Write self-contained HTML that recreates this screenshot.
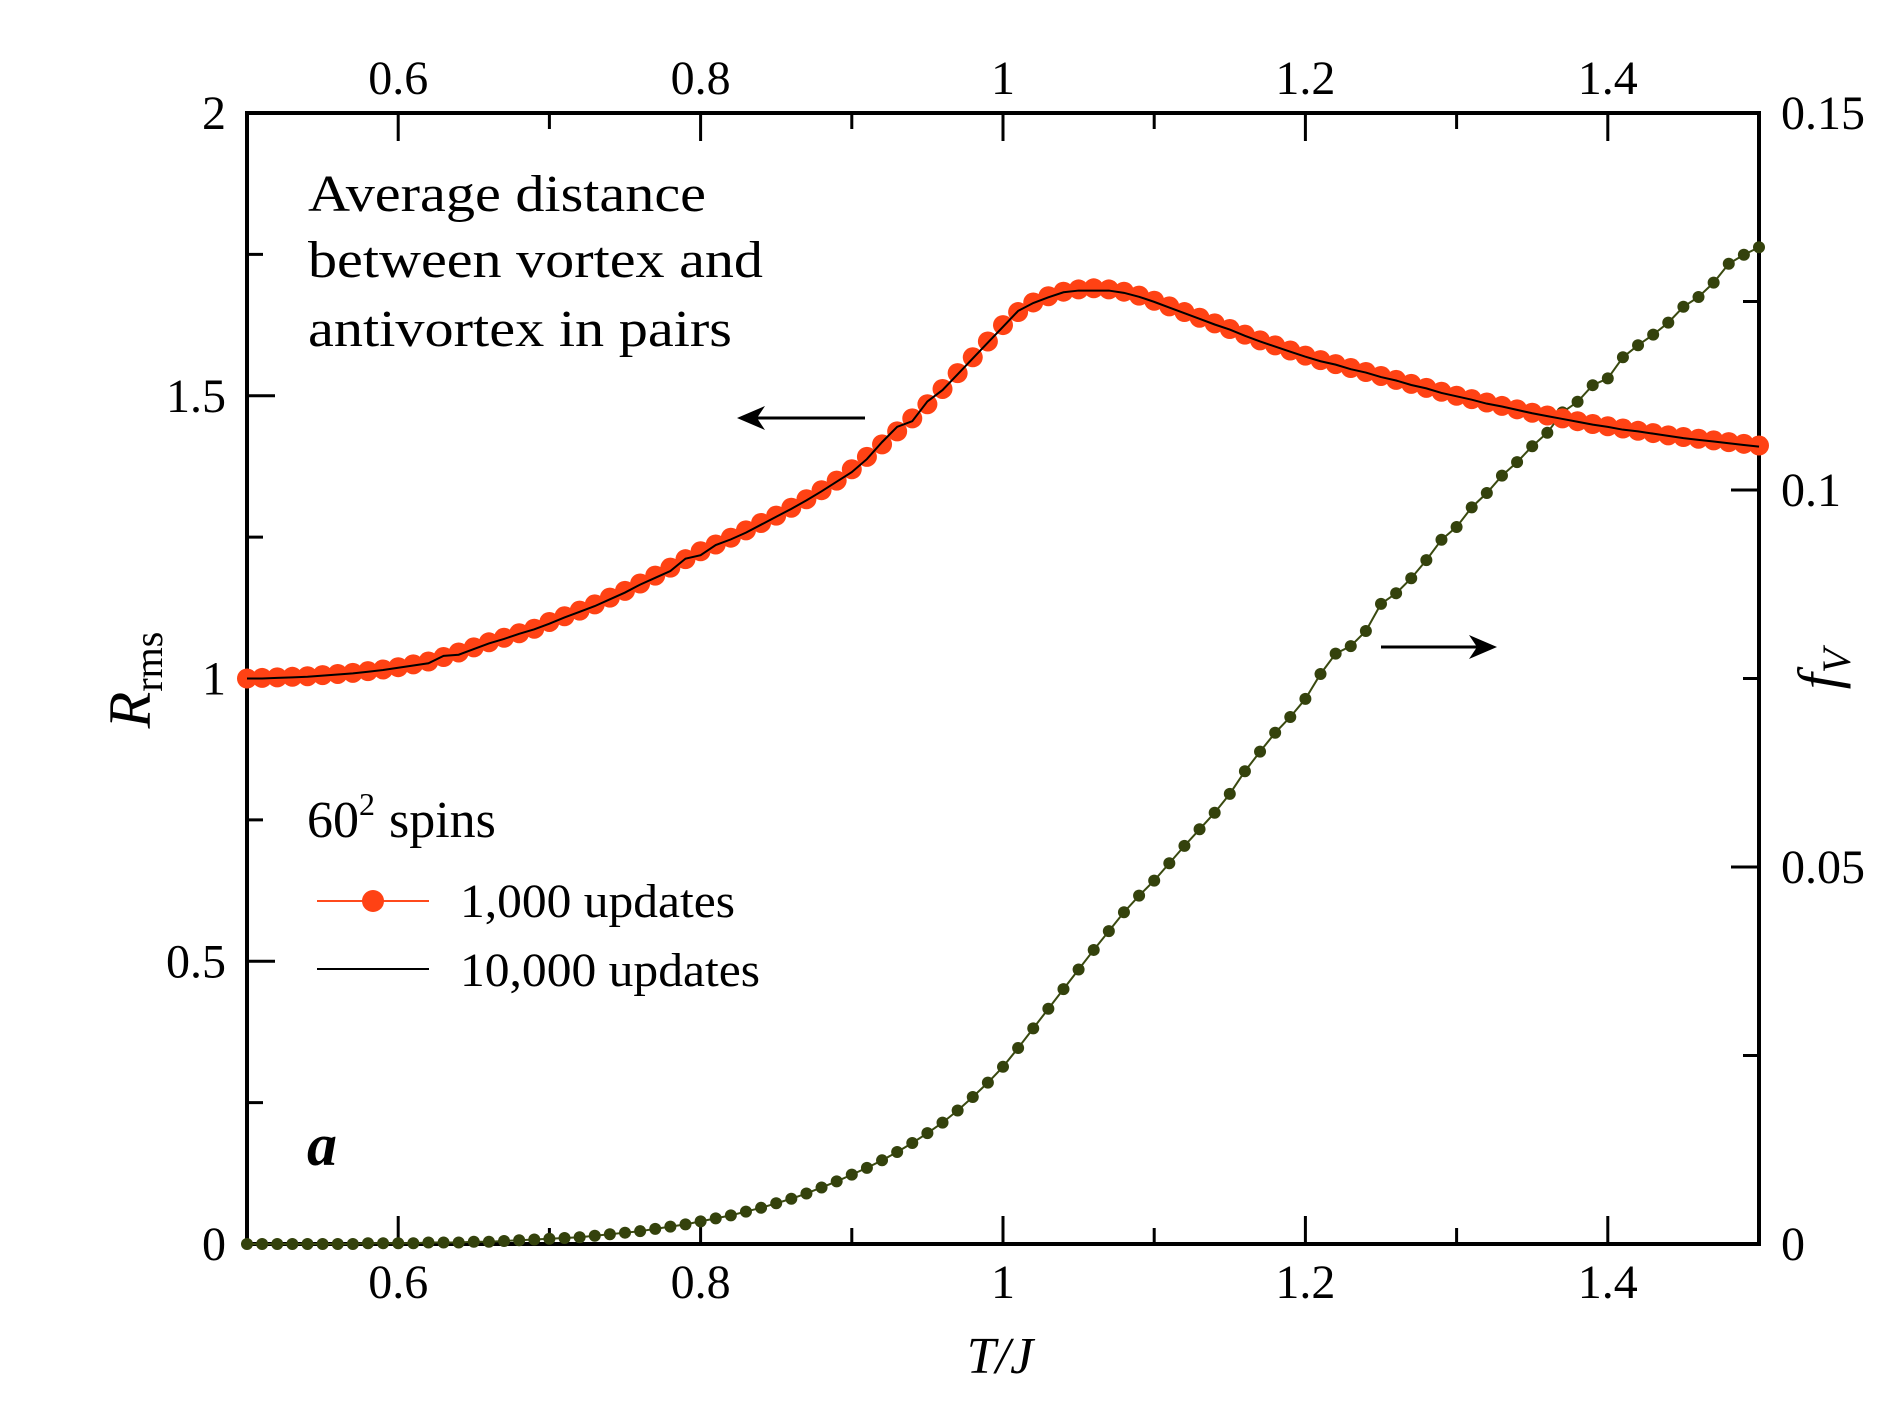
<!DOCTYPE html>
<html><head><meta charset="utf-8"><style>
html,body{margin:0;padding:0;background:#fff}
svg{display:block}
text{font-family:"Liberation Serif",serif;fill:#000}
</style></head><body>
<svg id="chart" width="1889" height="1417" viewBox="0 0 1889 1417" xmlns="http://www.w3.org/2000/svg">
<g id="axes"></g>
<g id="series"></g>
<text x="308" y="211" font-size="52" textLength="398" lengthAdjust="spacingAndGlyphs">Average distance</text>
<text x="308" y="277" font-size="52" textLength="455" lengthAdjust="spacingAndGlyphs">between vortex and</text>
<text x="308" y="346" font-size="52" textLength="424" lengthAdjust="spacingAndGlyphs">antivortex in pairs</text>
<text x="307" y="837" font-size="52">60<tspan dy="-22" font-size="32">2</tspan><tspan dy="22" dx="14">spins</tspan></text>
<line x1="317" y1="901" x2="429" y2="901" stroke="#ff4a1c" stroke-width="2"/>
<circle cx="373" cy="901" r="11" fill="#ff4214"/>
<text x="460" y="917" font-size="48" textLength="275" lengthAdjust="spacingAndGlyphs">1,000 updates</text>
<line x1="317" y1="969" x2="429" y2="969" stroke="#000" stroke-width="2"/>
<text x="460" y="986" font-size="48" textLength="300" lengthAdjust="spacingAndGlyphs">10,000 updates</text>
<text x="307" y="1165" font-size="60" font-weight="bold" font-style="italic">a</text>
<g><line x1="865" y1="418" x2="742" y2="418" stroke="#000" stroke-width="3"/><path d="M737 418 L765 406 L757 418 L765 430 Z" fill="#000"/></g>
<g><line x1="1381" y1="647" x2="1492" y2="647" stroke="#000" stroke-width="3"/><path d="M1497 647 L1469 635 L1477 647 L1469 659 Z" fill="#000"/></g>
<text x="1000" y="1373" font-size="52" font-style="italic" text-anchor="middle">T/J</text>
<text transform="translate(150,680) rotate(-90)" font-size="60" text-anchor="middle"><tspan font-style="italic">R</tspan><tspan font-size="40" dy="12">rms</tspan></text>
<text transform="translate(1838,669) rotate(-90)" font-size="58" text-anchor="middle"><tspan font-style="italic">f</tspan><tspan font-size="40" font-style="italic" dy="12">V</tspan></text>
</svg>
<script>
const temps = [];
for (let i = 0; i <= 100; i++) temps.push(0.5 + i * 0.01);
const rms1000 = [
1.000,1.001,1.002,1.003,1.004,1.006,1.008,1.010,1.013,1.016,
1.020,1.025,1.030,1.038,1.046,1.055,1.064,1.072,1.080,1.088,
1.100,1.110,1.120,1.131,1.143,1.155,1.168,1.182,1.196,1.211,
1.225,1.237,1.249,1.262,1.275,1.288,1.302,1.317,1.333,1.350,
1.370,1.392,1.414,1.437,1.460,1.485,1.512,1.540,1.568,1.596,
1.625,1.648,1.665,1.676,1.684,1.688,1.690,1.688,1.684,1.677,
1.668,1.658,1.648,1.638,1.628,1.618,1.608,1.598,1.589,1.580,
1.571,1.563,1.556,1.549,1.542,1.535,1.528,1.521,1.514,1.507,
1.500,1.494,1.488,1.482,1.476,1.470,1.465,1.460,1.455,1.450,
1.446,1.442,1.438,1.434,1.430,1.427,1.424,1.421,1.418,1.415,1.412];
const rms10000 = [
1.000,1.000,1.001,1.002,1.003,1.005,1.007,1.009,1.012,1.015,
1.019,1.023,1.027,1.040,1.042,1.052,1.062,1.070,1.079,1.087,
1.097,1.108,1.118,1.128,1.140,1.152,1.166,1.178,1.190,1.212,
1.218,1.236,1.246,1.258,1.272,1.286,1.300,1.315,1.331,1.348,
1.365,1.388,1.418,1.445,1.455,1.490,1.510,1.538,1.566,1.594,
1.622,1.650,1.664,1.674,1.683,1.686,1.686,1.686,1.682,1.675,
1.666,1.656,1.646,1.636,1.626,1.617,1.606,1.596,1.587,1.578,
1.569,1.561,1.555,1.547,1.541,1.533,1.527,1.519,1.513,1.505,
1.499,1.493,1.486,1.481,1.475,1.469,1.464,1.459,1.454,1.449,
1.445,1.440,1.437,1.433,1.429,1.425,1.422,1.419,1.416,1.413,1.410];
const fv = [
0,0,0,0,0,0,0,0,0.0001,0.0001,
0.0001,0.0001,0.0002,0.0002,0.0002,0.0003,0.0003,0.0004,0.0005,0.0006,
0.0007,0.0008,0.0009,0.0011,0.0013,0.0015,0.0017,0.0020,0.0023,0.0026,
0.0030,0.0034,0.0038,0.0043,0.0048,0.0054,0.0060,0.0067,0.0075,0.0083,
0.0092,0.0101,0.0111,0.0122,0.0134,0.0147,0.0161,0.0177,0.0195,0.0214,
0.0235,0.0260,0.0286,0.0312,0.0338,0.0364,0.0390,0.0415,0.0440,0.0462,
0.0482,0.0505,0.0528,0.0550,0.0572,0.0597,0.0627,0.0653,0.0678,0.0699,
0.0723,0.0756,0.0783,0.0793,0.0813,0.0849,0.0863,0.0883,0.0907,0.0934,
0.0951,0.0977,0.0996,0.1019,0.1037,0.1058,0.1076,0.1103,0.1117,0.1139,
0.1148,0.1176,0.1192,0.1206,0.1222,0.1243,0.1256,0.1275,0.1300,0.1312,0.1322];
const xTicks = [0.6, 0.8, 1, 1.2, 1.4];
const xTickLabels = ["0.6", "0.8", "1", "1.2", "1.4"];
const leftTicks = [0, 0.5, 1, 1.5, 2];
const leftTickLabels = ["0", "0.5", "1", "1.5", "2"];
const rightTicks = [0, 0.05, 0.1, 0.15];
const rightTickLabels = ["0", "0.05", "0.1", "0.15"];

const L = 247, R = 1759, T = 113, B = 1244;
const X = v => L + (v - 0.5) / 1.0 * (R - L);
const YL = v => B - v / 2 * (B - T);
const YR = v => B - v / 0.15 * (B - T);
const NS = "http://www.w3.org/2000/svg";
function mk(tag, attrs, parent) {
  const e = document.createElementNS(NS, tag);
  for (const k in attrs) e.setAttribute(k, attrs[k]);
  parent.appendChild(e);
  return e;
}
const axes = document.getElementById('axes');
const series = document.getElementById('series');
const frame = mk('rect', {x: L, y: T, width: R - L, height: B - T, fill: 'none', stroke: '#000', 'stroke-width': 4}, axes);


for (let i = 0; i <= 10; i++) {
  const v = 0.5 + i * 0.1;
  const major = i % 2 === 1;
  const len = major ? 28 : 16;
  const x = X(v);
  const t1 = mk('line', {x1: x, y1: B, x2: x, y2: B - len, stroke: '#000', 'stroke-width': 3}, axes);
  
  
  const t2 = mk('line', {x1: x, y1: T, x2: x, y2: T + len, stroke: '#000', 'stroke-width': 3}, axes);
  
  
}
xTicks.forEach((v, i) => {
  const b = mk('text', {x: X(v), y: 1298, 'font-size': 48, 'text-anchor': 'middle'}, axes);
  b.textContent = xTickLabels[i];
  
  
  const t = mk('text', {x: X(v), y: 94, 'font-size': 48, 'text-anchor': 'middle'}, axes);
  t.textContent = xTickLabels[i];
  
  
});
for (let i = 0; i <= 8; i++) {
  const v = i * 0.25;
  const len = i % 2 === 0 ? 28 : 16;
  const tk = mk('line', {x1: L, y1: YL(v), x2: L + len, y2: YL(v), stroke: '#000', 'stroke-width': 3}, axes);
  
  
}
leftTicks.forEach((v, i) => {
  const t = mk('text', {x: 226, y: YL(v) + 16, 'font-size': 48, 'text-anchor': 'end'}, axes);
  t.textContent = leftTickLabels[i];
  
  
});
for (let i = 0; i <= 6; i++) {
  const v = i * 0.025;
  const len = i % 2 === 0 ? 28 : 16;
  const tk = mk('line', {x1: R, y1: YR(v), x2: R - len, y2: YR(v), stroke: '#000', 'stroke-width': 3}, axes);
  
  
}
rightTicks.forEach((v, i) => {
  const t = mk('text', {x: 1781, y: YR(v) + 16, 'font-size': 48}, axes);
  t.textContent = rightTickLabels[i];
  
  
});
const fvLine = mk('polyline', {points: temps.map((t, i) => X(t) + ',' + YR(fv[i])).join(' '), fill: 'none', stroke: '#3a4a10', 'stroke-width': 2}, series);


temps.forEach((t, i) => {
  const c = mk('circle', {cx: X(t), cy: YR(fv[i]), r: 6, fill: '#34420c'}, series);
  
  
});
temps.forEach((t, i) => {
  const c = mk('circle', {cx: X(t), cy: YL(rms1000[i]), r: 10, fill: '#ff4214'}, series);
  
  
});
const blk = mk('polyline', {points: temps.map((t, i) => X(t) + ',' + YL(rms10000[i])).join(' '), fill: 'none', stroke: '#000', 'stroke-width': 2}, series);


</script>
</body></html>
